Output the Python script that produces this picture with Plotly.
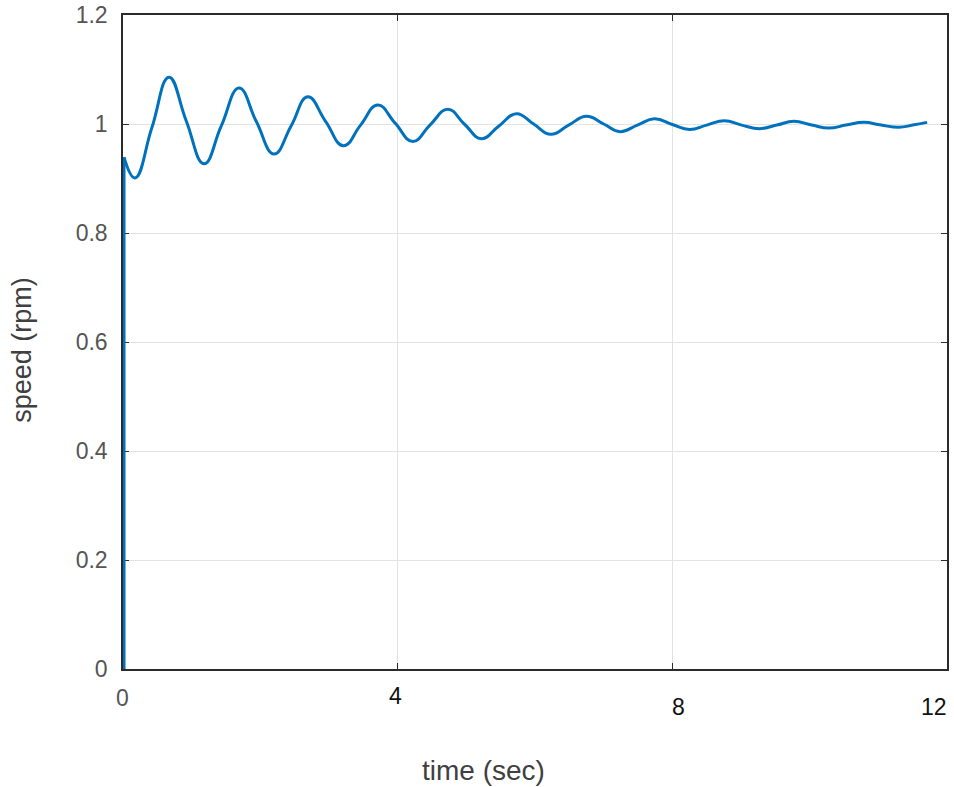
import plotly.graph_objects as go

# time (sec) and speed (rpm)
time_s = [0.015, 0.015, 0.175, 0.42, 0.67, 0.92, 1.18, 1.43, 1.69, 1.94, 2.20, 2.45, 2.69,
          2.95, 3.21, 3.46, 3.71, 3.96, 4.22, 4.47, 4.73, 4.97, 5.22, 5.47, 5.73,
          5.98, 6.23, 6.49, 6.75, 7.00, 7.24, 7.49, 7.74, 8.00, 8.25, 8.50, 8.76,
          9.01, 9.27, 9.52, 9.77, 10.03, 10.28, 10.53, 10.79, 11.04, 11.30, 11.50, 11.71]
speed = [0, 0.939, 0.901, 0.993, 1.086, 1.006, 0.927, 0.996, 1.066, 1.005, 0.945, 0.997,
         1.050, 1.005, 0.960, 0.998, 1.035, 1.002, 0.968, 0.998, 1.027, 1.000, 0.973,
         0.996, 1.019, 1.000, 0.981, 0.998, 1.014, 1.000, 0.986, 0.998, 1.0095, 0.999,
         0.990, 0.998, 1.006, 0.998, 0.9915, 0.998, 1.005, 0.998, 0.9925, 0.998, 1.003,
         0.998, 0.994, 0.998, 1.003]

x_ticks = [0, 4, 8, 12]
x_tick_labels = ["0", "4", "8", "12"]
x_label_colors = ["#555555", "#111111", "#111111", "#111111"]
x_label_yshift = [-29, -27, -38, -38]
x_label_xshift = [-1, -2, 6, -13]
y_ticks = [0, 0.2, 0.4, 0.6, 0.8, 1.0, 1.2]
y_tick_labels = ["0", "0.2", "0.4", "0.6", "0.8", "1", "1.2"]

LINE = "#0072BD"
fig = go.Figure()
# initial step (vertical rise at start)
fig.add_trace(go.Scatter(x=time_s[:2], y=speed[:2], mode="lines",
                         line=dict(color=LINE, width=3), showlegend=False))
# oscillating response
fig.add_trace(go.Scatter(x=time_s[1:], y=speed[1:], mode="lines",
                         line=dict(color=LINE, width=3, shape="spline", smoothing=1.3),
                         showlegend=False))

for xv, lab, col, ys, xs in zip(x_ticks, x_tick_labels, x_label_colors,
                                x_label_yshift, x_label_xshift):
    fig.add_annotation(x=xv, y=0, xref="x", yref="paper", text=lab, showarrow=False,
                       xanchor="center", yanchor="middle", yshift=ys, xshift=xs,
                       font=dict(family="Liberation Sans, Arial", size=23, color=col))

# axis titles
fig.add_annotation(x=0.437, y=0, xref="paper", yref="paper", text="time (sec)",
                   showarrow=False, xanchor="center", yanchor="middle", yshift=-101,
                   font=dict(family="Liberation Sans, Arial", size=28, color="#404040"))
fig.add_annotation(x=0, y=0.488, xref="paper", yref="paper", text="speed (rpm)",
                   showarrow=False, xanchor="center", yanchor="middle", xshift=-101,
                   textangle=-90,
                   font=dict(family="Liberation Sans, Arial", size=27, color="#404040"))

axis_common = dict(showgrid=True, gridcolor="#e3e3e3", gridwidth=1, zeroline=False,
                   showline=True, linecolor="#2b2b2b", linewidth=1.5, mirror="ticks",
                   ticks="inside", ticklen=6, tickcolor="#2b2b2b",
                   layer="below traces", automargin=False)

fig.update_layout(
    width=954, height=787,
    margin=dict(l=123, r=7, t=15, b=118),
    paper_bgcolor="white", plot_bgcolor="white",
    font=dict(family="Liberation Sans, Arial, sans-serif"),
    xaxis=dict(range=[0, 12], tickvals=x_ticks, showticklabels=False, **axis_common),
    yaxis=dict(range=[0, 1.2], tickvals=y_ticks, ticktext=y_tick_labels,
               tickfont=dict(size=23, color="#555555"), ticklabelstandoff=9,
               **axis_common),
)
fig.write_html("out.html", config={"displayModeBar": False},
               post_script="document.body.style.margin='0';document.body.style.overflow='hidden';")
